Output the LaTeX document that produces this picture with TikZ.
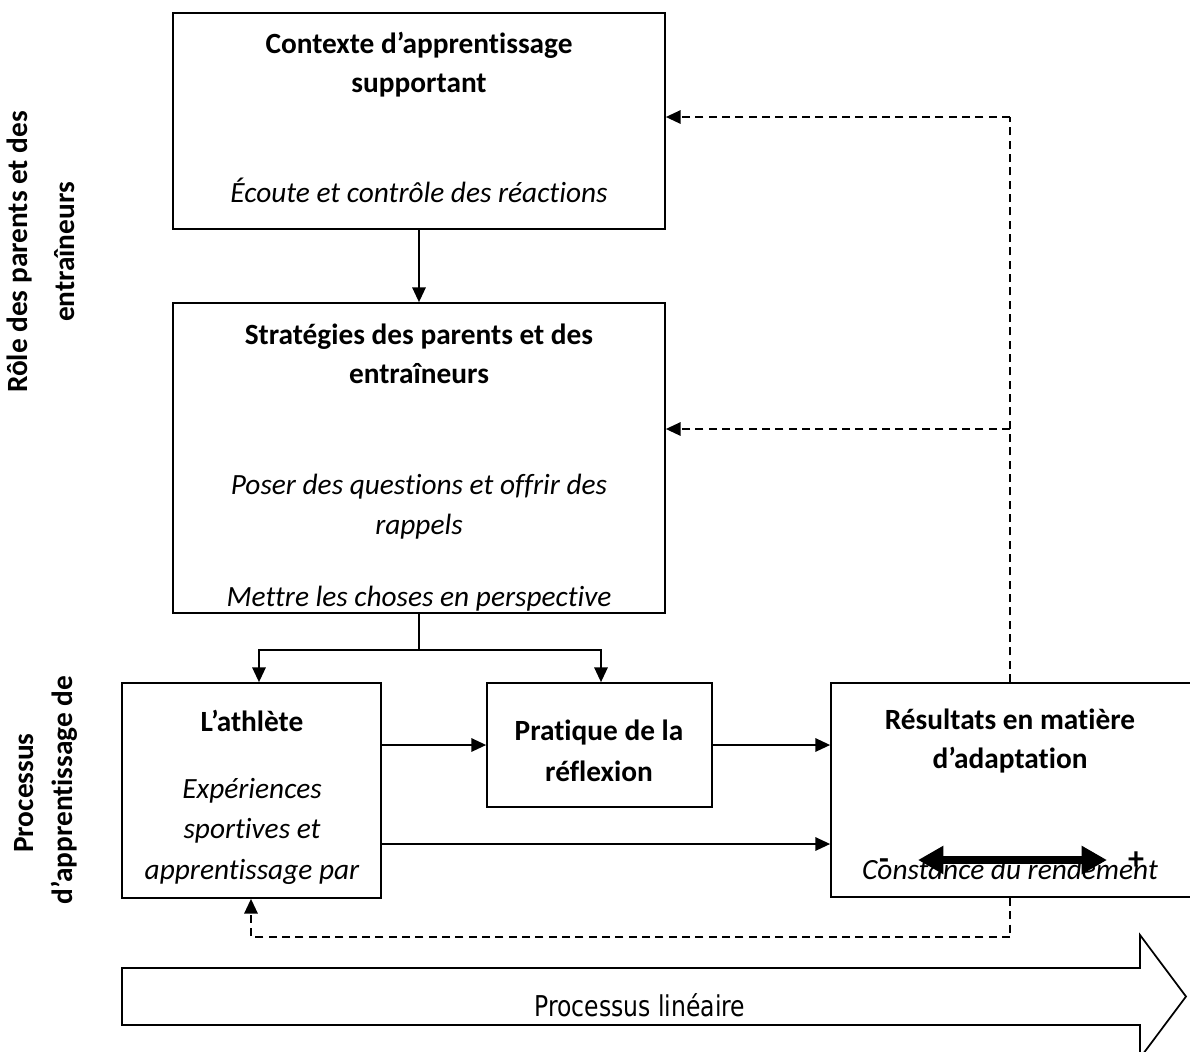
\documentclass[tikz,border=0pt]{standalone}
\usepackage{fontspec}
\setmainfont{Carlito}[Ligatures=NoCommon]
\newfontfamily\narrowfont[FakeStretch=0.82]{DejaVu Sans}
\usepackage{tikz}
\usetikzlibrary{arrows.meta,fit}

\tikzset{
  box/.style={draw, line width=1.3pt, inner sep=0pt},
  txt/.style={font=\fontsize{22}{26}\selectfont, text height=0.7em, text depth=0.25em, inner sep=0pt},
  btxt/.style={txt, font=\fontsize{22}{26}\selectfont\bfseries},
  itxt/.style={txt, font=\fontsize{22}{26}\selectfont\itshape},
  arr/.style={line width=1.3pt, -{Triangle[length=11pt,width=10pt]}},
  darr/.style={line width=1.3pt, dash pattern=on 6pt off 4pt, -{Triangle[length=11pt,width=10pt]}},
  dline/.style={line width=1.3pt, dash pattern=on 6pt off 4pt}
}

\begin{document}
\begin{tikzpicture}[x=0.75pt, y=-0.75pt]
\useasboundingbox (0, 0) rectangle (1190, 1051);

% boxes
\node [box, fit={(173, 13) (665, 229)}] (ctx) {};
\node [box, fit={(173, 303) (665, 613)}] (strat) {};
\node [box, fit={(122, 683) (381, 898)}] (athl) {};
\node [box, fit={(487, 683) (712, 807)}] (prat) {};
\node [box, fit={(831, 683) (1200, 897)}] (res) {};

% side labels
\node [btxt, rotate=90, anchor=base] (role1) at (27, 252) {Rôle des parents et des};
\node [btxt, rotate=90, anchor=base] (role2) at (74, 252) {entraîneurs};
\node [btxt, rotate=90, anchor=base] (proc1) at (33, 793) {Processus};
\node [btxt, rotate=90, anchor=base] (proc2) at (72, 790) {d’apprentissage de};

% box texts
\node [btxt] (ctxA) at (419, 50) {Contexte d’apprentissage};
\node [btxt] (ctxB) at (419, 89) {supportant};
\node [itxt] (ctxC) at (419, 199) {Écoute et contrôle des réactions};

\node [btxt] (stratA) at (419, 341) {Stratégies des parents et des};
\node [btxt] (stratB) at (419, 380) {entraîneurs};
\node [itxt] (stratC) at (419, 491) {Poser des questions et offrir des};
\node [itxt] (stratD) at (419, 531) {rappels};
\begin{scope}
\clip (strat.north west) rectangle (strat.south east);
\node [itxt] (stratE) at (419, 603) {Mettre les choses en perspective};
\end{scope}

\node [btxt] (athlA) at (252, 728) {L’athlète};
\node [itxt] (athlB) at (252, 795) {Expériences};
\node [itxt] (athlC) at (252, 835) {sportives et};
\node [itxt] (athlD) at (252, 876) {apprentissage par};

\node [btxt] (pratA) at (599, 737) {Pratique de la};
\node [btxt] (pratB) at (599, 778) {réflexion};

\node [btxt] (resA) at (1010, 726) {Résultats en matière};
\node [btxt] (resB) at (1010, 765) {d’adaptation};
\node [itxt] (resC) at (1010, 876) {Constance du rendement};

% scale in the results box
\coordinate (lo) at (918, 860);
\coordinate (hi) at (1107, 860);
\draw [line width=6pt, {Triangle[length=19pt,width=20pt]}-{Triangle[length=19pt,width=20pt]}] (lo) -- (hi);
\node [txt, font=\fontsize{24}{24}\selectfont\bfseries] (minus) at (884, 866) {-};
\node [txt, font=\fontsize{24}{24}\selectfont\bfseries] (plus) at (1136, 866) {+};

% solid connectors
\coordinate (split) at (419, 650);
\draw [arr] (ctx.south) -- (strat.north);
\draw [line width=1.3pt] (strat.south) -- (split);
\draw [arr] (split) -| (athl.north -| 259, 0);
\draw [arr] (split) -| (prat.north -| 601, 0);
\draw [arr] (athl.east |- prat.west) -- (prat.west);
\draw [arr] (prat.east) -- (prat.east -| res.west);
\coordinate (low) at (381, 844);
\draw [arr] (low) -- (low -| res.west);

% feedback loops
\coordinate (up) at (1010, 117);
\coordinate (mid) at (1010, 429);
\coordinate (down) at (1010, 937);
\draw [dline] (res.north -| up) -- (up);
\draw [darr] (up) -- (up -| ctx.east);
\draw [darr] (mid) -- (mid -| strat.east);
\draw [dline] (res.south -| down) -- (down);
\draw [darr] (down) -| (athl.south -| 251, 0);

% linear process arrow
\draw [line width=1.3pt] (122, 968) -- (1140, 968) -- (1140, 935) -- (1186, 996.5)
  -- (1140, 1058) -- (1140, 1025) -- (122, 1025) -- cycle;
\node [txt, font=\fontsize{21.5}{24}\narrowfont] (lin) at (640, 1013) {Processus linéaire};
\end{tikzpicture}
\end{document}
